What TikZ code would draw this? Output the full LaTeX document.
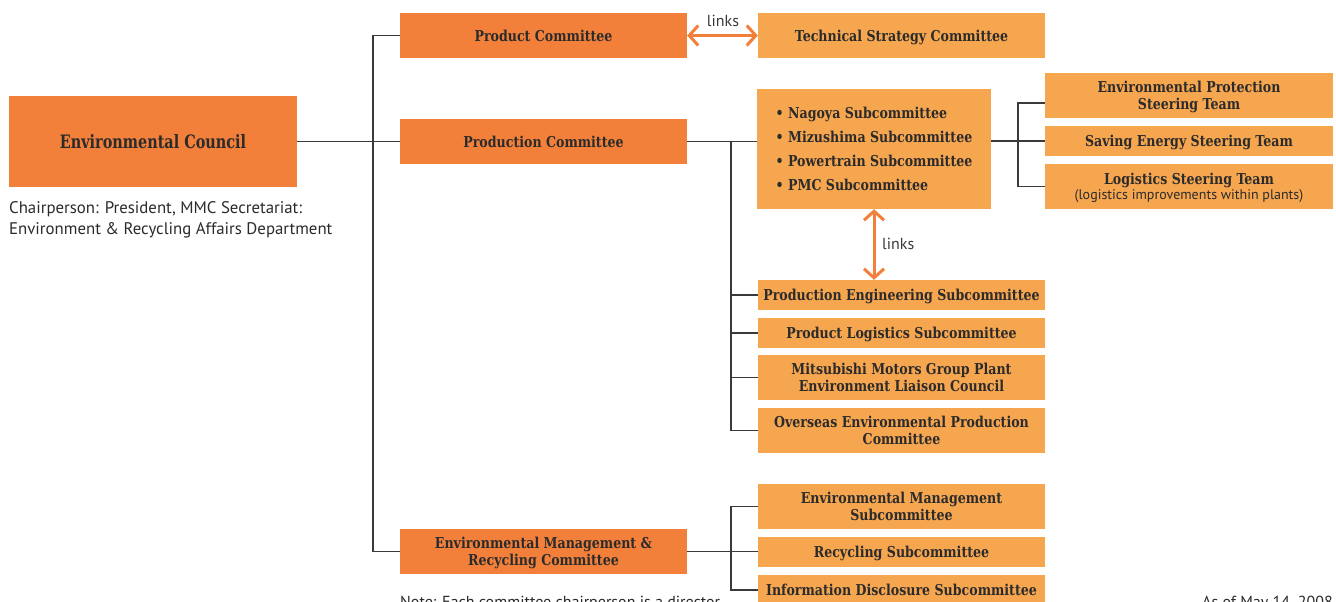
\documentclass[tikz,border=0pt]{standalone}
\usepackage{fontspec}
\setmainfont{PT Sans}
\newfontfamily\boxfont[FakeStretch=0.84]{DejaVu Serif}
\newfontfamily\councilfont[FakeStretch=0.78]{DejaVu Serif}
\usetikzlibrary{arrows.meta}
\definecolor{darkorange}{HTML}{F3803A}
\definecolor{lightorange}{HTML}{F7A650}
\definecolor{inktext}{HTML}{2B2B2B}
\definecolor{linkgray}{HTML}{3A3A3A}
\tikzset{
  unitbox/.style={inner sep=0pt, align=center, text=inktext, text depth=-4pt,
    font=\boxfont\bfseries\fontsize{15}{17.5}\selectfont},
  council/.style={unitbox, fill=darkorange},
  committee/.style={unitbox, fill=darkorange, minimum width=287pt, minimum height=45pt},
  subbox/.style={unitbox, fill=lightorange, minimum width=287pt},
  tall/.style={minimum height=45pt},
  short/.style={minimum height=30pt},
  orgline/.style={draw=linkgray, line width=1.2pt},
  linkarrow/.style={draw=darkorange, line width=3pt,
    {Straight Barb[length=9pt,width=20pt]}-{Straight Barb[length=9pt,width=20pt]}},
  sidenote/.style={inner sep=0pt, text=inktext, font=\fontsize{16.8}{21}\selectfont},
  footnote/.style={inner sep=0pt, text=inktext, font=\fontsize{16}{20}\selectfont},
  linklabel/.style={inner sep=0pt, text=linkgray, font=\fontsize{16}{18}\selectfont}
}
\begin{document}
\begin{tikzpicture}[x=1pt, y=-1pt]
\clip (0,0) rectangle (1336,602);
\fill[white] (0,0) rectangle (1336,602);

% council and its note
\node[council, minimum width=288pt, minimum height=91pt,
      font=\councilfont\bfseries\fontsize{18.5}{22}\selectfont] (ec) at (153,141.5) {Environmental Council};
\node[sidenote, anchor=north west, align=left] (chair) at (9,201)
  {Chairperson: President, MMC Secretariat:\\Environment \& Recycling Affairs Department};

% committees
\node[committee] (pc) at (543.5,35.5) {Product Committee};
\node[committee] (prc) at (543.5,141.5) {Production Committee};
\node[committee] (emr) at (543.5,551.5) {Environmental Management \&\\Recycling Committee};

% technical strategy
\node[subbox, tall] (tsc) at (901.5,35.5) {Technical Strategy Committee};

% plant subcommittees
\node[unitbox, fill=lightorange, minimum width=234pt, minimum height=120pt,
      align=left, font=\boxfont\bfseries\fontsize{15}{24}\selectfont] (subs) at (874,149)
  {\textbullet\ Nagoya Subcommittee\\\textbullet\ Mizushima Subcommittee\\
   \textbullet\ Powertrain Subcommittee\\\textbullet\ PMC Subcommittee};

% steering teams
\node[subbox, tall, minimum width=288pt] (ept) at (1189,95.5) {Environmental Protection\\Steering Team};
\node[subbox, short, minimum width=288pt] (sest) at (1189,141) {Saving Energy Steering Team};
\node[subbox, tall, minimum width=288pt] (lst) at (1189,186.5)
  {Logistics Steering Team\\[-2pt]{\rmfamily\mdseries\fontsize{14}{16}\selectfont(logistics improvements within plants)}};

% production subcommittees
\node[subbox, short] (pes) at (901.5,295) {Production Engineering Subcommittee};
\node[subbox, short] (pls) at (901.5,333) {Product Logistics Subcommittee};
\node[subbox, tall] (mmg) at (901.5,377.5) {Mitsubishi Motors Group Plant\\Environment Liaison Council};
\node[subbox, tall] (oep) at (901.5,430.5) {Overseas Environmental Production\\Committee};

% environmental management subcommittees
\node[subbox, tall] (ems) at (901.5,506.5) {Environmental Management\\Subcommittee};
\node[subbox, short] (rs) at (901.5,552) {Recycling Subcommittee};
\node[subbox, short] (ids) at (901.5,590) {Information Disclosure Subcommittee};

% junction points of the tree
\coordinate (trunk) at (373,141.5);
\coordinate (pj) at (731,141.5);
\coordinate (sj) at (1018,141);
\coordinate (eptstub) at (1045,103);
\coordinate (ej) at (731,551.5);

% council to committees
\draw[orgline] (ec.east) -- (prc.west);
\draw[orgline] (pc.west) -| (trunk) |- (emr.west);

% production committee branches
\draw[orgline] (prc.east) -- (prc.east -| subs.west);
\draw[orgline] (pj) |- (oep.west);
\draw[orgline] (pj |- pes.west) -- (pes.west);
\draw[orgline] (pj |- pls.west) -- (pls.west);
\draw[orgline] (pj |- mmg.west) -- (mmg.west);

% steering teams
\draw[orgline] (sest.west -| subs.east) -- (sest.west);
\draw[orgline] (eptstub) -| (sj) |- (lst.west);

% environmental management branches
\draw[orgline] (emr.east) -- (emr.east -| rs.west);
\draw[orgline] (ems.west) -| (ej) |- (ids.west);

% links
\draw[linkarrow] (pc.east) -- (tsc.west);
\node[linklabel] (linkA) at (723,21) {links};
\draw[linkarrow] (subs.south) -- (subs.south |- pes.north);
\node[linklabel, anchor=west] (linkB) at (882,244) {links};

% footnotes
\node[footnote, anchor=base west] (note) at (400,607) {Note: Each committee chairperson is a director};
\node[footnote, anchor=base east] (asof) at (1333,607) {As of May 14, 2008};
\end{tikzpicture}
\end{document}
